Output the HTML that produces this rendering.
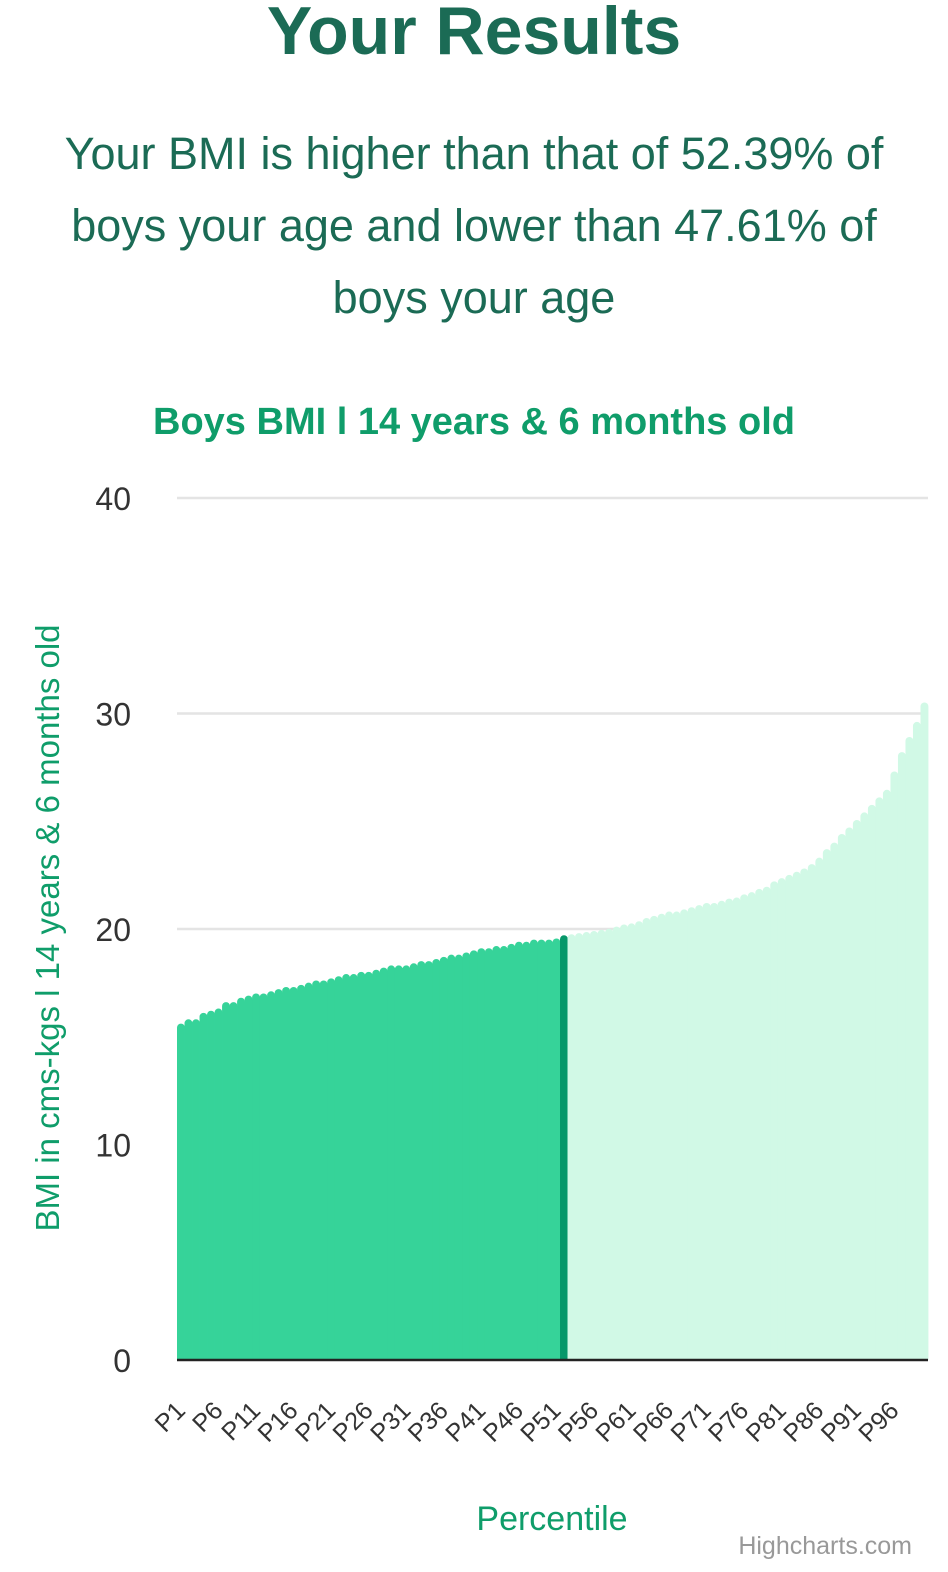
<!DOCTYPE html>
<html><head><meta charset="utf-8">
<style>
body{margin:0;background:#fff;width:948px;height:1572px;overflow:hidden;font-family:"Liberation Sans",Arial,sans-serif}
h1{position:absolute;top:-8px;left:0;width:948px;text-align:center;margin:0;font-size:68px;font-weight:bold;color:#1b6b55}
p.sum{position:absolute;top:118px;left:20px;width:908px;text-align:center;margin:0;font-size:45px;line-height:72px;color:#1b6b55}
</style></head><body>
<h1>Your Results</h1>
<p class="sum">Your BMI is higher than that of 52.39% of boys your age and lower than 47.61% of boys your age</p>
<svg id="chart" width="948" height="1572" style="position:absolute;left:0;top:0" font-family="Liberation Sans, Arial, sans-serif"></svg>
<script>
const values=[15.6,15.8,15.8,16.1,16.2,16.3,16.6,16.6,16.8,16.9,17.0,17.0,17.1,17.2,17.3,17.3,17.4,17.5,17.6,17.6,17.7,17.8,17.9,17.9,18.0,18.0,18.1,18.2,18.3,18.3,18.3,18.4,18.5,18.5,18.6,18.7,18.8,18.8,18.9,19.0,19.1,19.1,19.2,19.2,19.3,19.4,19.4,19.5,19.5,19.5,19.55,19.7,
19.75,19.8,19.85,19.9,19.95,20.0,20.1,20.2,20.25,20.35,20.5,20.6,20.7,20.8,20.8,20.9,21.0,21.1,21.2,21.2,21.3,21.4,21.45,21.6,21.7,21.85,21.95,22.2,22.35,22.5,22.65,22.8,23.0,23.3,23.7,24.0,24.4,24.7,25.05,25.4,25.75,26.1,26.45,27.3,28.2,28.9,29.6,30.5];
const categories=values.map((v,i)=>'P'+(i+1));
const yTicks=[0,10,20,30,40];
const highlightIndex=51;
const svg=document.getElementById('chart');
const NS='http://www.w3.org/2000/svg';
const L=177,R=928,T=498,B=1360,yMax=40;
const bw=(R-L)/values.length;
const y=v=>B-(v/yMax)*(B-T);
const x=i=>L+i*bw;
function mk(t,a,txt){const e=document.createElementNS(NS,t);for(const k in a)e.setAttribute(k,a[k]);if(txt!=null)e.textContent=txt;svg.appendChild(e);return e;}
let e=mk('text',{x:474,y:434,'text-anchor':'middle','font-size':38,'font-weight':'bold',fill:'#0f9d6a'},'Boys BMI l 14 years & 6 months old');


yTicks.forEach(t=>{
 if(t>0){const g=mk('line',{x1:L,x2:R,y1:y(t),y2:y(t),stroke:'#e4e4e4','stroke-width':2.5});
 
 }
 const tl=mk('text',{x:131,y:y(t)+12,'text-anchor':'end','font-size':32,fill:'#333'},t);
 
 
});
values.forEach((v,i)=>{
 const top=y(v),r=bw/2;
 const col=i<highlightIndex?'#36d399':(i===highlightIndex?'#06976a':'#d1f9e6');
 const w=bw+0.4,x0=x(i);
 const p=mk('path',{d:`M${x0},${B} L${x0},${top+r} A${r},${r} 0 0 1 ${x0+w},${top+r} L${x0+w},${B} Z`,fill:col});
 
 
 if(i%5===0){
  const cx=x(i)+bw/2;
  const lb=mk('text',{x:cx+6,y:B+52,'text-anchor':'end','font-size':25,fill:'#333',transform:`rotate(-45 ${cx+6} ${B+52})`},categories[i]);
  
  
 }
});
e=mk('line',{x1:L,x2:R,y1:B,y2:B,stroke:'#222','stroke-width':2.5});


e=mk('text',{x:59,y:928,'text-anchor':'middle','font-size':33,fill:'#0f9d6a',transform:'rotate(-90 59 928)'},'BMI in cms-kgs l 14 years & 6 months old');


e=mk('text',{x:552,y:1530,'text-anchor':'middle','font-size':34,fill:'#0f9d6a'},'Percentile');


e=mk('text',{x:912,y:1554,'text-anchor':'end','font-size':25,fill:'#999'},'Highcharts.com');


</script>
</body></html>
